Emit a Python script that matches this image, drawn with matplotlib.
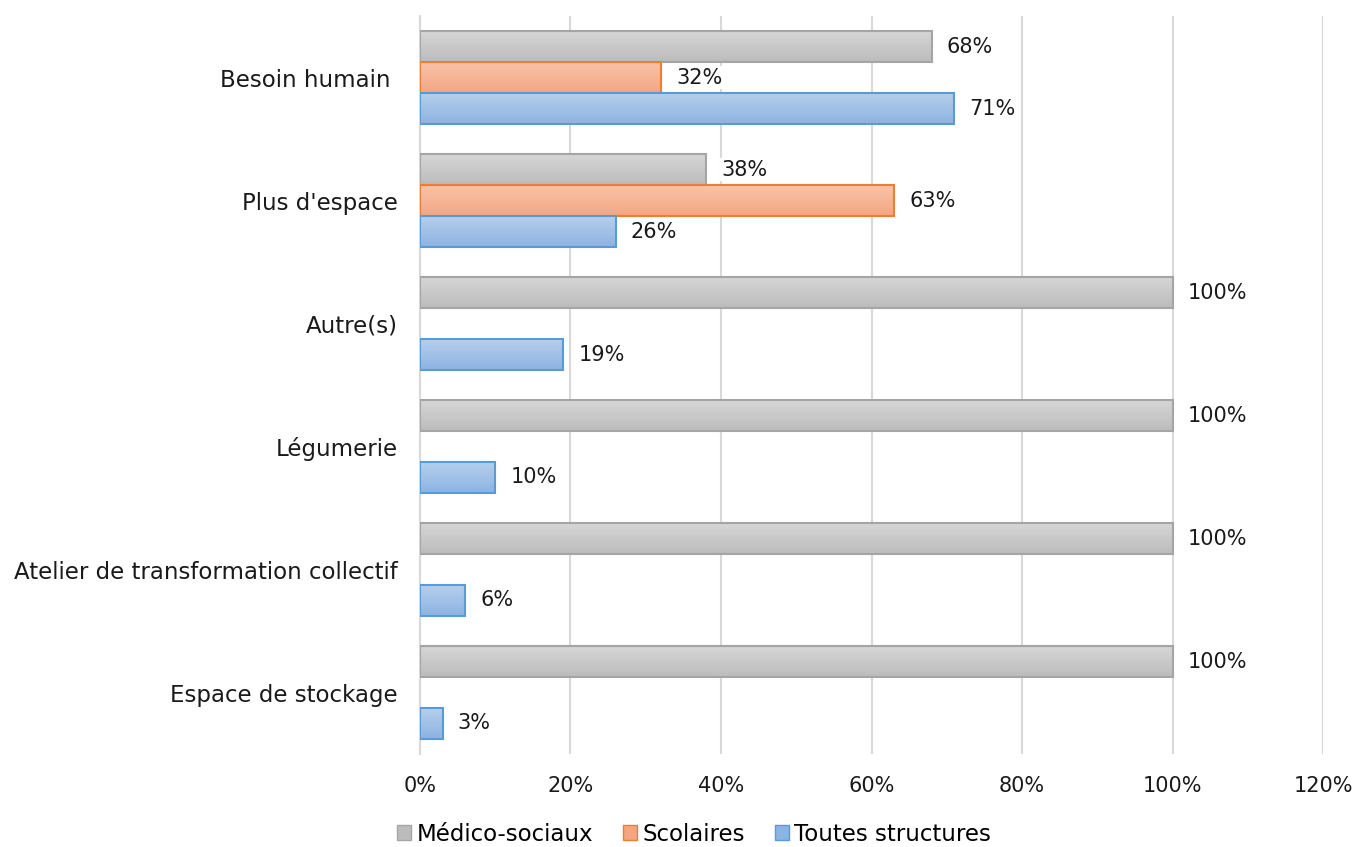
import matplotlib.pyplot as plt
import numpy as np
from matplotlib.colors import LinearSegmentedColormap
from matplotlib.patches import Patch

categories = ["Besoin humain ", "Plus d'espace", "Autre(s)", "Légumerie",
              "Atelier de transformation collectif", "Espace de stockage"]
medico = [68, 38, 100, 100, 100, 100]
scolaires = [32, 63, None, None, None, None]
toutes = [71, 26, 19, 10, 6, 3]
series_names = ["Médico-sociaux", "Scolaires", "Toutes structures"]
ticks = [0, 20, 40, 60, 80, 100, 120]

# (top colour, bottom colour, edge colour)
styles = [("#d6d6d6", "#bcbcbc", "#a5a5a5"),
          ("#f8c3aa", "#f4a682", "#ed7d31"),
          ("#b6cfec", "#8db3e2", "#5b9bd5")]

plt.rcParams['font.family'] = ['DejaVu Sans']
txt = "#1a1a1a"

fig = plt.figure(figsize=(13.56, 8.47), dpi=100)
ax = fig.add_axes([0.3097, 0.1098, 0.6660, 0.8713])

h = 0.252
offsets = [-h, 0, h]
y = np.arange(len(categories))

for k, vals in enumerate([medico, scolaires, toutes]):
    top, bottom, edge = styles[k]
    cmap = LinearSegmentedColormap.from_list("g%d" % k, [top, bottom])
    for i, v in enumerate(vals):
        if v is None:
            continue
        yc = y[i] + offsets[k]
        bar = ax.barh(yc, v, height=h, facecolor="none", edgecolor=edge,
                      linewidth=1.5, zorder=3)[0]
        grad = np.linspace(0, 1, 64).reshape(-1, 1)
        img = ax.imshow(grad, cmap=cmap, aspect="auto", zorder=2,
                        extent=[0, v, yc + h / 2, yc - h / 2])
        img.set_clip_path(bar)
        ax.annotate("%d%%" % v, xy=(v, yc), xytext=(11, 0),
                    textcoords="offset points", va="center", ha="left",
                    fontsize=15, color=txt, zorder=4,
                    bbox=dict(facecolor="white", edgecolor="none", pad=1))

ax.set_xlim(0, 120)
ax.set_ylim(len(categories) - 0.5, -0.5)
ax.set_xticks(ticks)
ax.set_xticklabels(["%d%%" % t for t in ticks], fontsize=15, color=txt)
ax.set_yticks(y)
ax.set_yticklabels(categories, fontsize=16.5, color=txt)
ax.tick_params(length=0, pad=16, axis="y")
ax.tick_params(length=0, pad=16, axis="x")
ax.xaxis.grid(True, color="#d9d9d9", linewidth=1.5)
ax.set_axisbelow(True)
for s in ["top", "right", "bottom"]:
    ax.spines[s].set_visible(False)
ax.spines["left"].set_color("#d9d9d9")
ax.spines["left"].set_linewidth(1.5)

handles = [Patch(facecolor=styles[k][1], edgecolor=styles[k][2], label=series_names[k])
           for k in range(3)]
fig.legend(handles=handles, loc="center", bbox_to_anchor=(0.512, 0.015), ncol=3,
           frameon=False, fontsize=16.5, handlelength=0.6, handleheight=0.6,
           handletextpad=0.25, columnspacing=1.3)

fig.savefig("out.png", dpi=100)
